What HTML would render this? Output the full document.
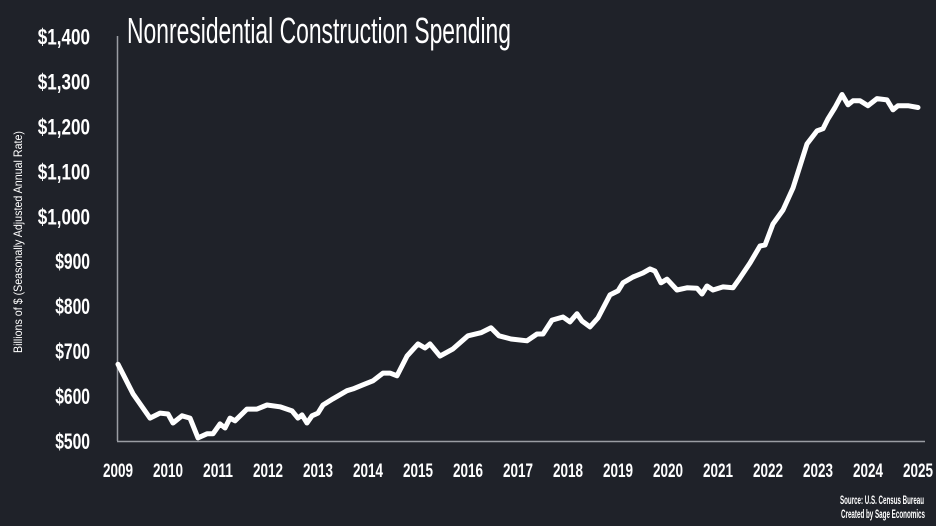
<!DOCTYPE html>
<html><head><meta charset="utf-8"><style>
html,body{margin:0;padding:0;background:#1f2229;}
svg{display:block;}
text{font-family:"Liberation Sans Narrow","Liberation Sans",sans-serif;fill:#fff;}
</style></head><body>
<svg id="chart" width="936" height="526" viewBox="0 0 936 526">
<rect x="0" y="0" width="936" height="526" fill="#1f2229"/>
<text x="127" y="43" font-size="36" textLength="384" lengthAdjust="spacingAndGlyphs">Nonresidential Construction Spending</text>
<text transform="translate(22,242) rotate(-90)" text-anchor="middle" font-size="12" textLength="222" lengthAdjust="spacingAndGlyphs">Billions of $ (Seasonally Adjusted Annual Rate)</text>
<line x1="117.5" y1="36" x2="117.5" y2="441" stroke="#9a9da3" stroke-width="1.5"/>
<line x1="117" y1="441.5" x2="925" y2="441.5" stroke="#9a9da3" stroke-width="1.5"/>
<g id="yticks"></g><g id="xticks"></g>
<path id="series" fill="none" stroke="#fff" stroke-width="5" stroke-linejoin="round" stroke-linecap="round"/>
<text x="840" y="504" font-size="11.5" font-weight="bold" textLength="84" lengthAdjust="spacingAndGlyphs">Source: U.S. Census Bureau</text>
<text x="841" y="518" font-size="11.5" font-weight="bold" textLength="84" lengthAdjust="spacingAndGlyphs">Created by Sage Economics</text>
</svg>
<script>
const yTickValues=[500,600,700,800,900,1000,1100,1200,1300,1400];
const yTickLabels=["$500","$600","$700","$800","$900","$1,000","$1,100","$1,200","$1,300","$1,400"];
const xTickValues=[2009,2010,2011,2012,2013,2014,2015,2016,2017,2018,2019,2020,2021,2022,2023,2024,2025];
const dates=[2009.0,2009.3,2009.64,2009.84,2010.0,2010.1,2010.28,2010.44,2010.6,2010.78,2010.9,2011.04,2011.14,2011.24,2011.34,2011.58,2011.78,2011.98,2012.24,2012.48,2012.6,2012.68,2012.78,2012.88,2013.0,2013.1,2013.3,2013.58,2013.7,2013.9,2014.1,2014.3,2014.44,2014.58,2014.78,2015.0,2015.14,2015.24,2015.44,2015.7,2016.0,2016.26,2016.46,2016.62,2016.86,2017.18,2017.38,2017.5,2017.68,2017.9,2018.04,2018.18,2018.28,2018.44,2018.6,2018.84,2019.0,2019.1,2019.3,2019.5,2019.64,2019.74,2019.86,2019.98,2020.18,2020.38,2020.58,2020.68,2020.78,2020.9,2021.1,2021.3,2021.44,2021.64,2021.84,2021.94,2022.1,2022.3,2022.5,2022.78,2022.98,2023.1,2023.2,2023.34,2023.48,2023.6,2023.7,2023.84,2024.0,2024.18,2024.38,2024.5,2024.6,2024.8,2025.0];
const values=[671,605,551,562,560,540,556,551,507,516,516,538,529,551,545,571,571,580,576,567,551,558,540,556,562,580,594,612,616,625,634,651,651,645,689,716,707,716,689,705,734,741,752,734,727,723,738,738,769,776,765,783,767,754,774,825,834,852,865,874,883,878,852,860,836,841,840,827,845,836,843,841,863,896,934,936,983,1014,1063,1161,1190,1195,1217,1242,1271,1248,1257,1257,1246,1262,1259,1237,1246,1246,1242];
const NS="http://www.w3.org/2000/svg";
function xs(v){return 118+(v-2009)*50;}
function ys(v){return 441-(v-500)*0.4494;}
const yg=document.getElementById('yticks');
yTickValues.forEach((v,i)=>{
 const t=document.createElementNS(NS,'text');
 
 
 const lab=yTickLabels[i];
 const w=lab.length*8.7;
 t.setAttribute('x',90-w);t.setAttribute('y',ys(v)+8);
 t.setAttribute('textLength',w);t.setAttribute('lengthAdjust','spacingAndGlyphs');
 t.setAttribute('font-size','22');t.setAttribute('font-weight','bold');
 t.textContent=lab;yg.appendChild(t);
});
const xg=document.getElementById('xticks');
xTickValues.forEach(v=>{
 const t=document.createElementNS(NS,'text');
 
 
 t.setAttribute('x',xs(v)-15);t.setAttribute('y',477);
 t.setAttribute('textLength','30');t.setAttribute('lengthAdjust','spacingAndGlyphs');
 t.setAttribute('font-size','19');t.setAttribute('font-weight','bold');
 t.textContent=String(v);xg.appendChild(t);
});
document.getElementById('series').setAttribute('d',dates.map((d,i)=>(i?'L':'M')+xs(d).toFixed(1)+' '+ys(values[i]).toFixed(1)).join(' '));
</script>
</body></html>
